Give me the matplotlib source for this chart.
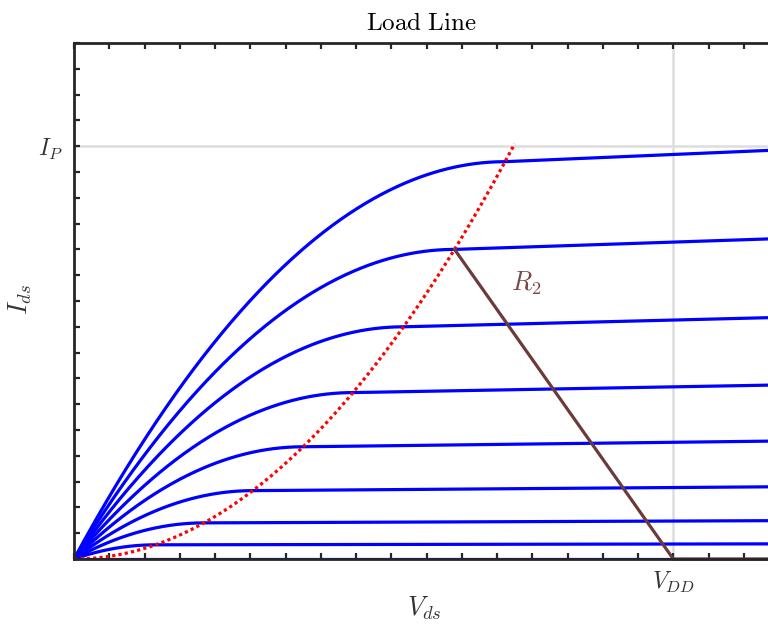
import numpy as np
import matplotlib
matplotlib.use("Agg")
import matplotlib.pyplot as plt

# device curves (arbitrary units, one tick = 1)
k_n = 0.103          # parabola I = k * Vds^2 through the knees
lam = 0.0038         # channel length modulation past the knee
i_sat = [0.0, 0.55, 1.4, 2.65, 4.35, 6.45, 9.0, 12.0, 15.4]
v_dd = 17.0
i_p = 16.0
x_max = 19.7
y_max = 20.0
load_curve = 7       # curve the load line starts on
parabola_vmax = 12.5

plt.rcParams["mathtext.fontset"] = "cm"

fig = plt.figure(figsize=(7.68, 6.24), dpi=100)
ax = fig.add_axes([74 / 768, 65 / 624, 694.5 / 768, 516 / 624])

# reference lines
ax.axhline(i_p, color="#dddddd", lw=1.8, zorder=1)
ax.axvline(v_dd, color="#dddddd", lw=1.8, zorder=1)

v = np.linspace(0, x_max, 600)
for isat in i_sat:
    vov = np.sqrt(isat / k_n)
    i = np.where(v < vov, k_n * (2 * vov * v - v ** 2),
                 k_n * vov ** 2 * (1 + lam * (v - vov)))
    ax.plot(v, i, color="#0000ff", lw=2.3, zorder=3)

# saturation boundary
vp = np.linspace(0, parabola_vmax, 200)
ax.plot(vp, k_n * vp ** 2, color="#ff0000", lw=2.3, ls=(0, (1, 1)), zorder=4)

# load line
vq = np.sqrt(i_sat[load_curve] / k_n)
iq = k_n * vq ** 2
ax.plot([vq, v_dd, x_max], [iq, 0, 0], color="#6b3b3b", lw=2.3, zorder=5,
        clip_on=False)
ax.text(12.4, 10.7, r"$R_2$", color="#7a4848", fontsize=19, ha="left", va="center")

ax.set_xlim(0, x_max)
ax.set_ylim(0, y_max)

xt = np.arange(0, 20)
yt = np.arange(0, 21)
ax.set_xticks(xt)
ax.set_xticklabels([r"$V_{DD}$" if t == v_dd else "" for t in xt], fontsize=17,
                   color="#333333")
ax.set_yticks(yt)
ax.set_yticklabels([r"$I_P$" if t == i_p else "" for t in yt], fontsize=17,
                   color="#333333")
ax.tick_params(direction="in", length=4, width=1.6, top=True, right=False,
               color="#262626", pad=8)

for s in ax.spines.values():
    s.set_color("#262626")
    s.set_linewidth(2.0)
    s.set_zorder(6)

ax.set_xlabel(r"$V_{ds}$", fontsize=19, color="#333333")
ax.set_ylabel(r"$I_{ds}$", fontsize=19, color="#333333")
ax.xaxis.set_label_coords(0.504, -0.068)
ax.yaxis.set_label_coords(-0.058, 0.502)
ax.set_title(r"$\mathrm{Load\ Line}$", fontsize=18, pad=9)

fig.savefig("out.png", dpi=100)
